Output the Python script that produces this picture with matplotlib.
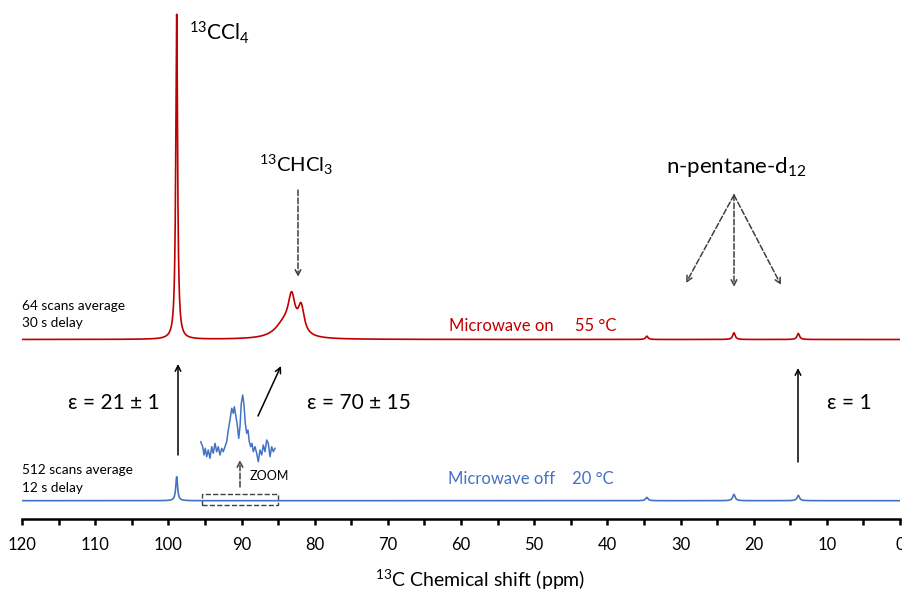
import numpy as np
import matplotlib
matplotlib.use('Agg')
import matplotlib.pyplot as plt
from matplotlib.patches import Rectangle

plt.rcParams['font.family'] = ['Lato', 'DejaVu Sans']
plt.rcParams['mathtext.fontset'] = 'custom'
plt.rcParams['mathtext.rm'] = 'Lato'
plt.rcParams['mathtext.it'] = 'Lato:italic'

# peak list (ppm, height, FWHM in ppm)
red_centres = [98.86, 84.2, 83.15, 81.85, 34.6, 22.7, 13.9]
red_heights = [325, 14, 35, 27, 3.3, 6.7, 6.0]
red_widths = [0.3, 3.0, 1.15, 1.0, 0.4, 0.4, 0.4]

blue_centres = [98.86, 34.6, 22.7, 13.9]
blue_heights = [24, 3.3, 6.3, 5.3]
blue_widths = [0.3, 0.4, 0.4, 0.4]

red_offset = 179.5
blue_offset = 18.3

# zoomed part of the blue spectrum (95.4 - 85 ppm)
inset_ppm = [95.40, 95.12, 94.94, 94.76, 94.56, 94.34, 94.10, 93.86, 93.64, 93.40,
             93.16, 92.94, 92.70, 92.46, 92.24, 92.00, 91.76, 91.54, 91.30, 91.06,
             90.84, 90.70, 90.50, 90.28, 90.08, 89.90, 89.72, 89.52, 89.34, 89.16,
             88.96, 88.78, 88.60, 88.40, 88.22, 88.04, 87.80, 87.56, 87.34, 87.10,
             86.86, 86.64, 86.40, 86.16, 85.94, 85.70, 85.46, 85.24, 85.00]
inset_int = [23.3, 18.3, 10, 16.7, 8.3, 15, 6.7, 18.3, 11.7, 21.7,
             13.3, 18.3, 10, 16.7, 13.3, 18.3, 23.3, 35, 45, 56.7,
             51.7, 58.3, 50, 40, 26.7, 38.3, 61.7, 70, 60, 41.7,
             31.7, 35, 23.3, 18.3, 21.7, 13.3, 18.3, 11.7, 3.3, 15,
             10, 20, 13.3, 25, 21.7, 8.3, 18.3, 13.3, 16.7]

RED = '#C00000'
BLUE = '#4472C4'
GREY = '#404040'


def spectrum(x, centres, heights, widths):
    y = np.zeros_like(x)
    for c, h, w in zip(centres, heights, widths):
        y += h / (1 + ((x - c) / (w / 2)) ** 2)
    return y


def px(p):
    # pixel column -> ppm
    return 120 - (p - 22) * 120 / 878


W, H = 902, 591
fig = plt.figure(figsize=(W / 100, H / 100), dpi=100)
ax = fig.add_axes([22 / W, (H - 519) / H, 878 / W, 519 / H])

x = np.linspace(120, 0, 12001)
ax.plot(x, red_offset + spectrum(x, red_centres, red_heights, red_widths), color=RED, lw=1.2)
ax.plot(x, blue_offset + spectrum(x, blue_centres, blue_heights, blue_widths), color=BLUE, lw=1.2)

ax.set_xlim(120, 0)
ax.set_ylim(0, 519)
ax.set_xticks(np.arange(120, -1, -10))
ax.set_xticks(np.arange(115, 0, -10), minor=True)
ax.set_yticks([])
for s in ['top', 'right', 'left']:
    ax.spines[s].set_visible(False)
ax.spines['bottom'].set_linewidth(1.8)
ax.tick_params(axis='x', which='both', direction='out', length=4, width=1.8, labelsize=12, pad=9)
fig.text(480 / W, 1 - 580 / H, '$^{13}$C Chemical shift (ppm)', ha='center', va='center', fontsize=14)

# labels
ax.text(px(189), 519 - 33, '$^{13}$CCl$_4$', fontsize=15, ha='left', va='center')
ax.text(px(296), 519 - 165, '$^{13}$CHCl$_3$', fontsize=14.6, ha='center', va='center')
ax.text(px(736), 519 - 167, 'n-pentane-d$_{12}$', fontsize=16, ha='center', va='center')
ax.text(px(533), 519 - 326, 'Microwave on     55 °C', color=RED, fontsize=12, ha='center', va='center')
ax.text(px(531), 519 - 479, 'Microwave off    20 °C', color=BLUE, fontsize=12, ha='center', va='center')
ax.text(px(22), 519 - 306, '64 scans average', fontsize=9.8, ha='left', va='center')
ax.text(px(22), 519 - 323, '30 s delay', fontsize=9.8, ha='left', va='center')
ax.text(px(22), 519 - 470, '512 scans average', fontsize=9.8, ha='left', va='center')
ax.text(px(22), 519 - 488, '12 s delay', fontsize=9.8, ha='left', va='center')
ax.text(px(114), 519 - 403, 'ε = 21 ± 1', fontsize=15, ha='center', va='center')
ax.text(px(359), 519 - 403, 'ε = 70 ± 15', fontsize=15, ha='center', va='center')
ax.text(px(849), 519 - 403, 'ε = 1', fontsize=15, ha='center', va='center')
ax.text(px(250), 519 - 476, 'ZOOM', fontsize=9, ha='left', va='center')

# arrows
solid = dict(arrowstyle='->', lw=1.1, color='black', shrinkA=0, shrinkB=0)
dashed = dict(arrowstyle='->', lw=1.1, color=GREY, ls='--', shrinkA=0, shrinkB=0)
ax.annotate('', xy=(px(178), 519 - 364), xytext=(px(178), 519 - 455), arrowprops=solid)
ax.annotate('', xy=(px(281), 519 - 366), xytext=(px(258), 519 - 416), arrowprops=solid)
ax.annotate('', xy=(px(798), 519 - 368), xytext=(px(798), 519 - 462), arrowprops=solid)
ax.annotate('', xy=(px(298), 519 - 277), xytext=(px(298), 519 - 190), arrowprops=dashed)
for tip in [(686, 283), (734, 287), (781, 285)]:
    ax.annotate('', xy=(px(tip[0]), 519 - tip[1]), xytext=(px(734), 519 - 195), arrowprops=dashed)
ax.annotate('', xy=(px(240), 519 - 460), xytext=(px(240), 519 - 487), arrowprops=dashed)
ax.add_patch(Rectangle((px(201.7), 519 - 505), px(278.3) - px(201.7), 10.7,
                       fill=False, ls='--', lw=1.0, ec=GREY))

# inset of the zoomed region
ins = fig.add_axes([200.7 / W, (H - 465) / H, 74.3 / W, 70 / H])
ins.plot(inset_ppm, inset_int, color=BLUE, lw=1.1, clip_on=False)
ins.set_xlim(95.4, 85)
ins.set_ylim(0, 70)
ins.axis('off')

fig.savefig('out.png', dpi=100)
